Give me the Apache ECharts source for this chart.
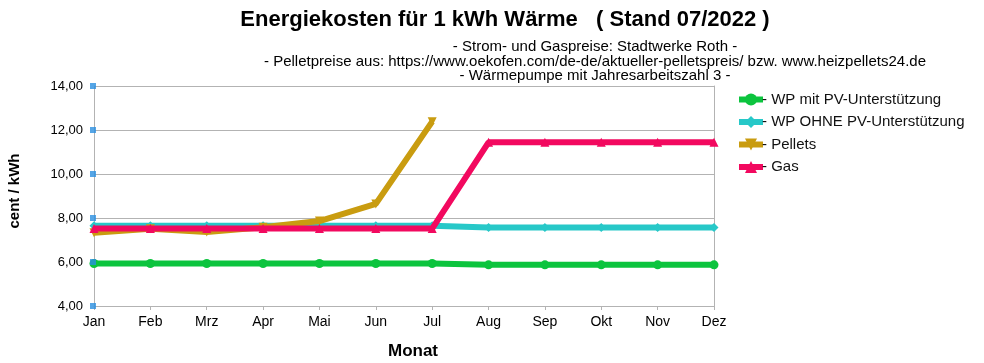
<!DOCTYPE html>
<html><head><meta charset="utf-8">
<script src="https://cdn.jsdelivr.net/npm/echarts@6/dist/echarts.min.js"></script>
<style>html,body{margin:0;padding:0;background:#fff}#c{width:984px;height:363px}</style>
</head><body><div id="c"></div>
<script>
const months = ['Jan','Feb','Mrz','Apr','Mai','Jun','Jul','Aug','Sep','Okt','Nov','Dez'];
const wpMitPV = [5.93,5.93,5.93,5.93,5.93,5.93,5.93,5.87,5.87,5.87,5.87,5.87];
const wpOhnePV = [7.65,7.65,7.65,7.65,7.65,7.65,7.65,7.57,7.57,7.57,7.57,7.57];
const pellets = [7.33,7.51,7.36,7.58,7.86,8.64,12.38,null,null,null,null,null];
const gas = [7.52,7.52,7.52,7.52,7.52,7.52,7.52,11.44,11.44,11.44,11.44,11.44];
const yTicks = [4,6,8,10,12,14];
const names = ['- WP mit PV-Unterstützung','- WP OHNE PV-Unterstützung','- Pellets','- Gas'];
const colors = ['#0cc43e','#27c8c8','#c99c10','#f2095f'];
const symbols = ['circle','diamond','triangle','triangle'];

const chart = echarts.init(document.getElementById('c'));
const font = 'Liberation Sans, Arial, sans-serif';
const mk = (i, data, rot) => ({
  name: names[i], type: 'line', data: data, color: colors[i],
  lineStyle: {width: 6, color: colors[i]},
  symbol: symbols[i], symbolSize: 9, symbolRotate: rot || 0,
  itemStyle: {color: colors[i]}, showSymbol: true, connectNulls: false,
  animation: false, z: 3 + i
});
chart.setOption({
  animation: false,
  textStyle: {fontFamily: font},
  title: [
    {text: 'Energiekosten für 1 kWh Wärme   ( Stand 07/2022 )', left: 500, top: 4, textAlign: 'center',
     textStyle: {fontSize: 22, fontWeight: 'bold', color: '#000', fontFamily: font}},
    {text: '- Strom- und Gaspreise: Stadtwerke Roth -\n- Pelletpreise aus: https://www.oekofen.com/de-de/aktueller-pelletspreis/ bzw. www.heizpellets24.de\n- Wärmepumpe mit Jahresarbeitszahl 3 -',
     left: 590, top: 35, textAlign: 'center',
     textStyle: {fontSize: 15, fontWeight: 'normal', color: '#000', lineHeight: 14.5, fontFamily: font}}
  ],
  legend: {
    orient: 'vertical', left: 736, top: 92, padding: 0, itemGap: 7.5, itemWidth: 24, itemHeight: 15,
    lineStyle: {width: 6}, itemStyle: {borderWidth: 0},
    data: names, textStyle: {fontSize: 15, color: '#111', fontFamily: font, padding: [0,0,0,-6]}
  },
  grid: {left: 94, right: 270, top: 86, bottom: 57, outerBoundsMode: 'none', containLabel: false},
  xAxis: {
    type: 'category', data: months, boundaryGap: false,
    name: 'Monat', nameLocation: 'middle', nameGap: 37,
    nameTextStyle: {fontSize: 17, fontWeight: 'bold', color: '#000', fontFamily: font, padding: [0,0,0,18]},
    axisLine: {lineStyle: {color: '#b3b3b3', width: 1}},
    axisTick: {show: true, length: 4, lineStyle: {color: '#b3b3b3'}},
    axisLabel: {fontSize: 14, color: '#000', margin: 9, fontFamily: font}
  },
  yAxis: [{
    type: 'value', min: 4, max: 14, interval: 2,
    name: 'cent / kWh', nameLocation: 'middle', nameGap: 72, nameRotate: 90,
    nameTextStyle: {fontSize: 15, fontWeight: 'bold', color: '#000', fontFamily: font, padding: [0,0,0,10]},
    axisLine: {show: true, lineStyle: {color: '#b3b3b3'}},
    axisTick: {show: false},
    splitLine: {lineStyle: {color: '#b3b3b3', width: 1}},
    axisLabel: {fontSize: 13, color: '#000', margin: 11, fontFamily: font,
      formatter: v => v.toFixed(2).replace('.', ',')}
  }, {
    type: 'value', min: 4, max: 14, interval: 2, position: 'right',
    axisLine: {show: true, lineStyle: {color: '#b3b3b3'}},
    axisTick: {show: false}, axisLabel: {show: false}, splitLine: {show: false}
  }],
  series: [
    mk(0, wpMitPV), mk(1, wpOhnePV), mk(2, pellets, 180), mk(3, gas),
    {type: 'scatter', name: 'handles', data: yTicks.map(v => ['Jan', v]), symbol: 'rect', symbolSize: 6,
     symbolOffset: [-1, 0], itemStyle: {color: '#2a8fe0'}, z: 10, silent: true, animation: false}
  ]
});
</script></body></html>
